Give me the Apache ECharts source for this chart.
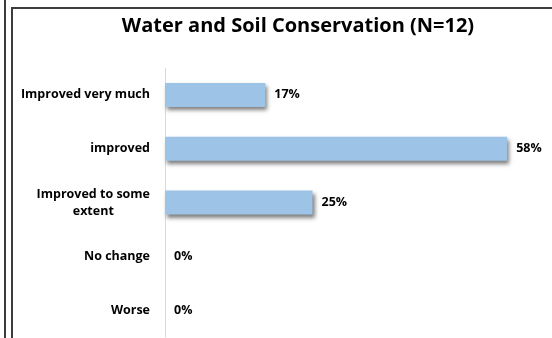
<!DOCTYPE html>
<html>
<head>
<meta charset="utf-8">
<script src="https://cdn.jsdelivr.net/npm/echarts@6/dist/echarts.min.js"></script>
<style>
  html, body { margin: 0; padding: 0; background: #fff; }
  #chart { width: 552px; height: 338px; }
</style>
</head>
<body>
<div id="chart"></div>
<script>
// Survey responses, listed top to bottom
const categories = ['Improved very much', 'improved', 'Improved to some extent', 'No change', 'Worse'];
const percentages = [17, 58, 25, 0, 0];
const titleText = 'Water and Soil Conservation (N=12)';

const chart = echarts.init(document.getElementById('chart'), null, { renderer: 'canvas' });

const fontFamily = '"Open Sans", "DejaVu Sans", sans-serif';

chart.setOption({
  animation: false,
  backgroundColor: '#ffffff',
  title: {
    text: titleText,
    left: 293,
    textAlign: 'center',
    top: 11,
    textStyle: { fontFamily, fontWeight: 'bold', fontSize: 20, color: '#000' }
  },
  grid: { left: 165, right: 33, top: 68, bottom: 1, containLabel: false },
  xAxis: {
    type: 'value',
    min: 0,
    max: 60,
    show: false
  },
  yAxis: {
    type: 'category',
    inverse: true,
    data: categories,
    axisLine: { show: true, lineStyle: { color: '#d9d9d9', width: 1 } },
    axisTick: { show: false },
    axisLabel: {
      margin: 15,
      fontFamily,
      fontWeight: 'bold',
      fontSize: 12.5,
      color: '#000',
      align: 'right',
      formatter: function (v) {
        if (v === 'Improved to some extent') {
          return '{c|Improved to some}\n{c|extent}';
        }
        return '{c|' + v + '}';
      },
      rich: {
        c: { align: 'center', fontFamily, fontWeight: 'bold', fontSize: 12.5, color: '#000', lineHeight: 17 }
      }
    }
  },
  series: [{
    type: 'bar',
    data: percentages,
    barWidth: 24,
    itemStyle: {
      color: '#9dc3e6',
      shadowColor: 'rgba(0,0,0,0.5)',
      shadowBlur: 4,
      shadowOffsetX: 2,
      shadowOffsetY: 3
    },
    label: {
      show: true,
      position: 'right',
      distance: 9,
      formatter: '{c}%',
      fontFamily,
      fontWeight: 'bold',
      fontSize: 12.5,
      color: '#000'
    }
  }],
  graphic: [
    { type: 'line', shape: { x1: 5, y1: 0, x2: 5, y2: 338 }, style: { stroke: '#3c3c3c', lineWidth: 2 } },
    { type: 'polyline', shape: { points: [[12, 338], [12, 8], [552, 8]] }, style: { stroke: '#3c3c3c', lineWidth: 2, fill: null } }
  ]
});
</script>
</body>
</html>
